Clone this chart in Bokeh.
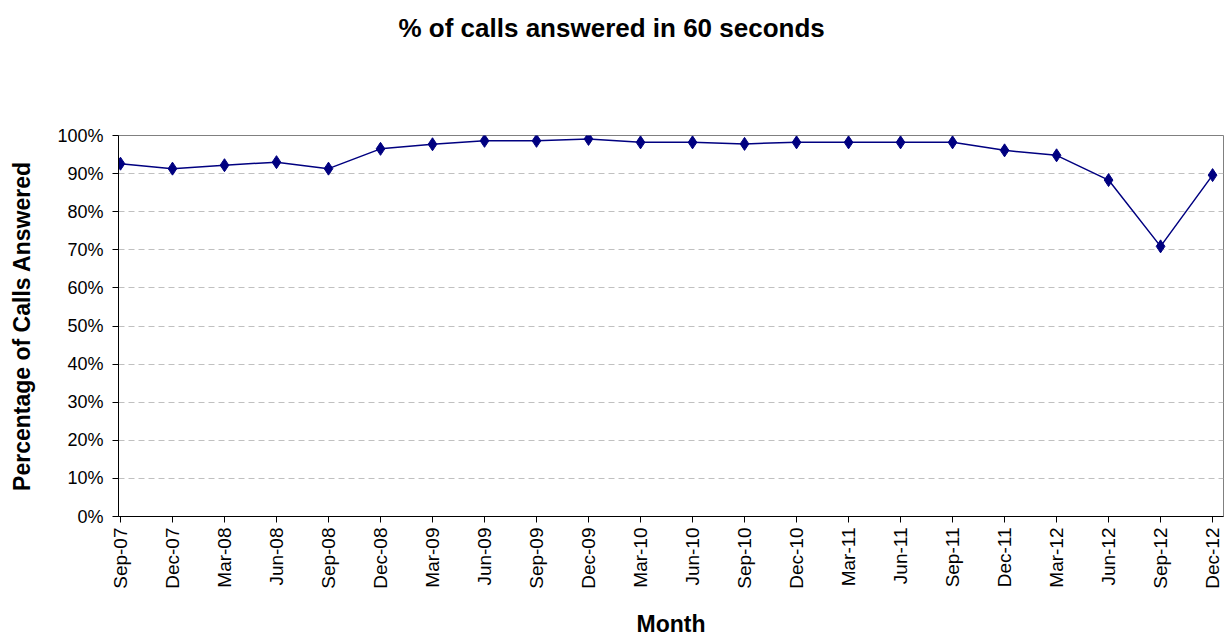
import math
from bokeh.plotting import figure
from bokeh.models import FixedTicker, NumeralTickFormatter, Title, ColumnDataSource, Range1d
from bokeh.embed import file_html
from bokeh.resources import INLINE

months = ["Sep-07", "Dec-07", "Mar-08", "Jun-08", "Sep-08", "Dec-08", "Mar-09", "Jun-09",
          "Sep-09", "Dec-09", "Mar-10", "Jun-10", "Sep-10", "Dec-10", "Mar-11", "Jun-11",
          "Sep-11", "Dec-11", "Mar-12", "Jun-12", "Sep-12", "Dec-12"]
answered_pct = [92.6, 91.3, 92.2, 93.0, 91.3, 96.5, 97.7, 98.6, 98.6, 99.1, 98.2, 98.2,
                97.8, 98.2, 98.2, 98.2, 98.2, 96.1, 94.8, 88.3, 70.9, 89.6]
y_ticks = [0, 0.1, 0.2, 0.3, 0.4, 0.5, 0.6, 0.7, 0.8, 0.9, 1.0]

FONT = "Liberation Sans"

src = ColumnDataSource(dict(x=list(range(len(months))),
                            y=[v / 100 for v in answered_pct]))

p = figure(width=1224, height=639, output_backend="svg", toolbar_location=None,
           x_range=Range1d(-0.038, 21.21), y_range=Range1d(0, 1),
           min_border_left=118, min_border_right=1, min_border_top=135,
           min_border_bottom=123)
p.title = None

# empty spacer panel next to the frame, then the real title further out
spacer = Title(text=" ", text_font=FONT, text_font_size="10px", standoff=80)
p.add_layout(spacer, "above")
p.add_layout(Title(text="% of calls answered in 60 seconds", align="left",
                   text_font=FONT, text_font_size="26px", text_font_style="bold",
                   text_color="black", offset=280, standoff=0), "above")

p.outline_line_color = "#808080"
p.outline_line_width = 1
p.background_fill_color = "white"
p.border_fill_color = "white"

# grid
p.xgrid.grid_line_color = None
p.ygrid.ticker = FixedTicker(ticks=y_ticks[1:-1])
p.ygrid.grid_line_color = "#c0c0c0"
p.ygrid.grid_line_dash = "6 4"
p.ygrid.grid_line_width = 1

# y axis
p.yaxis.ticker = FixedTicker(ticks=y_ticks)
p.yaxis.formatter = NumeralTickFormatter(format="0%")
p.yaxis.major_tick_out = 6
p.yaxis.major_tick_in = 0
p.yaxis.minor_tick_line_color = None
p.yaxis.axis_line_color = "black"
p.yaxis.major_tick_line_color = "black"
p.yaxis.major_label_text_font = FONT
p.yaxis.major_label_text_font_size = "18px"
p.yaxis.major_label_text_color = "black"
p.yaxis.major_label_standoff = 9
p.yaxis.axis_label = "Percentage of Calls Answered"
p.yaxis.axis_label_text_font = FONT
p.yaxis.axis_label_text_font_size = "23px"
p.yaxis.axis_label_text_font_style = "bold"
p.yaxis.axis_label_text_color = "black"
p.yaxis.axis_label_standoff = 19

# x axis
p.xaxis.ticker = FixedTicker(ticks=list(range(len(months))))
p.xaxis.major_label_overrides = {i: m for i, m in enumerate(months)}
p.xaxis.major_label_orientation = math.pi / 2
p.xaxis.major_tick_out = 6
p.xaxis.major_tick_in = 0
p.xaxis.minor_tick_line_color = None
p.xaxis.axis_line_color = "black"
p.xaxis.major_tick_line_color = "black"
p.xaxis.major_label_text_font = FONT
p.xaxis.major_label_text_font_size = "19px"
p.xaxis.major_label_text_color = "black"
p.xaxis.major_label_standoff = 5
p.xaxis.axis_label = "Month"
p.xaxis.axis_label_text_font = FONT
p.xaxis.axis_label_text_font_size = "23px"
p.xaxis.axis_label_text_font_style = "bold"
p.xaxis.axis_label_text_color = "black"
p.xaxis.axis_label_standoff = 19

# data
p.line("x", "y", source=src, line_color="#000080", line_width=1.5)
p.scatter("x", "y", source=src, marker="diamond", size=13,
          fill_color="#000080", line_color="#000080")

open("out.html", "w").write(file_html(p, INLINE))
